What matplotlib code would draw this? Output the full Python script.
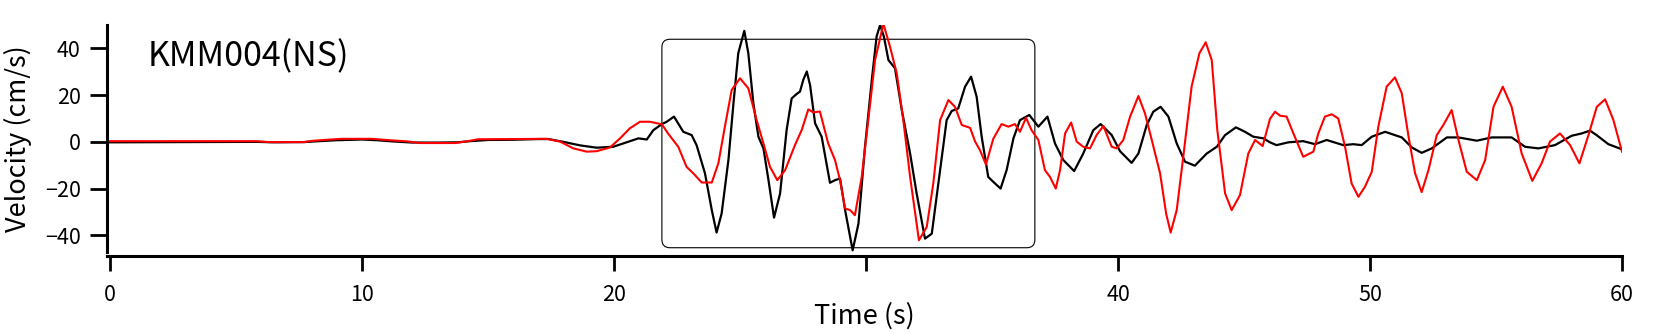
import matplotlib
matplotlib.use("Agg")
import matplotlib.pyplot as plt
from matplotlib.patches import FancyBboxPatch

plt.rcParams['font.family'] = ['Noto Sans CJK JP', 'DejaVu Sans']

# ---- data ----
black_t = [0, 3, 5.8, 6.5, 7.7, 8.3, 9.0, 10.0, 10.6, 11.2, 12.0, 13.0, 13.8, 14.3, 15.0, 16.0,
           17.0, 17.4, 17.99, 18.65, 19.31, 19.97, 20.5, 20.97, 21.3, 21.56, 21.9, 22.09, 22.38,
           22.75, 23.08, 23.28, 23.61, 23.88, 24.07, 24.27, 24.54, 24.74, 24.93, 25.17, 25.33,
           25.53, 25.73, 25.93, 26.13, 26.35, 26.59, 26.85, 27.05, 27.25, 27.38, 27.51, 27.65,
           27.78, 27.98, 28.24, 28.57, 28.77, 28.97, 29.17, 29.47, 29.7, 29.96, 30.23, 30.42,
           30.56, 30.71, 30.89, 31.15, 31.42, 31.75, 32.01, 32.34, 32.61, 32.94, 33.2, 33.4,
           33.66, 33.93, 34.17, 34.39, 34.59, 34.85, 35.05, 35.34, 35.58, 35.85, 36.11, 36.48,
           36.84, 37.2, 37.5, 37.83, 38.26, 38.62, 39.02, 39.31, 39.75, 40.08, 40.54, 40.81,
           41.14, 41.4, 41.69, 42.0, 42.33, 42.66, 43.05, 43.52, 43.92, 44.25, 44.68, 45.04,
           45.37, 45.77, 46.03, 46.29, 46.76, 47.35, 47.82, 48.28, 48.94, 49.34, 49.67, 50.07,
           50.6, 51.26, 51.66, 52.05, 52.45, 53.05, 53.51, 54.24, 54.83, 55.62, 56.15, 56.68,
           57.34, 58.0, 58.4, 58.73, 58.99, 59.46, 60.0]
black_v = [-0.2, -0.1, 0.0, -0.2, -0.1, 0.3, 0.7, 1.0, 0.7, 0.2, -0.3, -0.3, -0.2, 0.3, 0.8, 0.9,
           1.2, 1.2, 0.0, -1.5, -2.5, -2.1, -0.2, 1.5, 1.0, 5.0, 7.6, 8.6, 10.8,
           4.3, 2.9, -1.5, -13.5, -29.2, -38.8, -30.7, -7.8, 16.5, 37.9, 47.5, 37.9,
           16.5, 2.2, -2.8, -16.4, -32.4, -22.1, 5.1, 18.6, 20.5, 21.5, 26.5, 30.1,
           24.3, 7.9, 2.2, -17.5, -16.4, -15.7, -29.2, -46.4, -35.0, -2.1, 26.5, 45.1,
           50.0, 45.0, 35.0, 31.5, 13.6, -5.0, -22.1, -41.4, -39.3, -12.1, 9.3, 13.2,
           14.3, 23.6, 27.9, 19.3, 2.2, -15.0, -17.1, -20.0, -12.1, 1.5, 9.3, 11.5,
           6.5, 10.8, -0.7, -7.8, -12.5, -5.0, 5.0, 7.6, 2.9, -4.0, -9.0, -5.0,
           7.2, 12.9, 15.0, 10.8, -0.7, -8.5, -10.2, -5.0, -2.1, 2.9, 6.2, 4.3,
           2.2, 1.5, -0.2, -1.4, -0.2, 0.3, -1.0, 0.8, -1.4, -1.0, -1.4, 2.2,
           4.3, 1.9, -2.4, -4.7, -2.8, 1.9, 1.9, 0.5, 1.9, 1.9, -2.1, -2.8,
           -1.4, 2.6, 3.6, 4.8, 2.9, -1.0, -3.2]

red_t = [0, 5.8, 6.3, 7.7, 8.0, 8.6, 9.2, 10.4, 11.1, 11.8, 12.3, 13.7, 14.2, 14.6, 17.33, 17.86,
         18.39, 18.92, 19.31, 19.84, 20.24, 20.63, 21.03, 21.43, 21.9, 22.15, 22.55, 22.88, 23.15,
         23.48, 23.88, 24.14, 24.4, 24.67, 25.0, 25.33, 25.66, 25.93, 26.19, 26.48, 26.79, 27.18,
         27.45, 27.71, 27.91, 28.17, 28.5, 28.77, 28.97, 29.17, 29.37, 29.56, 29.83, 30.09, 30.36,
         30.69, 30.95, 31.22, 31.48, 31.75, 32.1, 32.41, 32.67, 32.94, 33.27, 33.53, 33.8, 34.13,
         34.33, 34.52, 34.76, 35.05, 35.38, 35.65, 35.91, 36.11, 36.35, 36.57, 36.84, 37.1, 37.3,
         37.53, 37.7, 37.9, 38.14, 38.36, 38.62, 38.89, 39.15, 39.42, 39.75, 39.95, 40.21, 40.48,
         40.81, 41.07, 41.34, 41.67, 41.91, 42.09, 42.33, 42.59, 42.92, 43.23, 43.48, 43.72, 43.94,
         44.25, 44.51, 44.84, 45.17, 45.44, 45.74, 46.03, 46.23, 46.43, 46.69, 46.96, 47.35, 47.75,
         47.95, 48.21, 48.48, 48.74, 49.01, 49.27, 49.54, 49.8, 50.07, 50.33, 50.66, 50.99, 51.26,
         51.53, 51.79, 52.05, 52.32, 52.65, 52.91, 53.24, 53.51, 53.84, 54.24, 54.57, 54.9, 55.27,
         55.62, 56.02, 56.44, 56.81, 57.14, 57.54, 57.94, 58.31, 58.67, 59.0, 59.33, 59.66, 60.0]
red_v = [0.3, 0.3, -0.1, -0.1, 0.4, 0.9, 1.3, 1.3, 0.7, 0.2, -0.5, -0.5, 0.3, 1.1, 1.3, 0.1,
         -2.8, -4.2, -4.0, -2.4, 1.5, 5.8, 8.6, 8.6, 7.5, 3.5, -2.1, -10.7, -13.5,
         -17.4, -17.4, -9.2, 6.5, 22.2, 27.2, 22.9, 9.3, -0.7, -10.7, -16.4, -12.1, -1.4,
         5.1, 13.9, 12.6, 13.0, -0.7, -7.8, -16.4, -28.5, -29.2, -31.4, -15.0, 9.3, 35.0,
         50.5, 40.8, 29.3, 9.3, -15.0, -42.1, -36.4, -17.8, 9.3, 17.9, 15.0, 7.2, 6.0,
         0.1, -3.5, -9.7, 1.3, 7.6, 6.5, 7.6, 4.3, 10.3, 5.0, 0.8, -12.1, -15.0,
         -20.0, -12.1, 3.6, 8.3, 0.1, -2.1, -2.8, 2.9, 6.8, -2.1, -2.8, 0.8, 10.8,
         19.6, 12.2, 0.8, -13.5, -30.7, -38.8, -29.2, -6.4, 23.6, 37.9, 42.6, 35.0, 5.1,
         -22.1, -29.2, -22.8, -5.0, 0.8, -1.8, 9.8, 12.9, 11.2, 10.8, 3.6, -6.4, -4.2,
         3.6, 10.8, 11.8, 10.0, -2.1, -17.8, -23.5, -19.2, -12.8, 6.5, 23.6, 27.6, 20.8,
         2.2, -13.5, -21.5, -12.1, 2.9, 7.2, 13.6, 0.8, -12.8, -16.4, -7.8, 15.0, 23.6,
         15.0, -5.0, -16.7, -9.2, 0.1, 3.6, -1.4, -9.2, 2.9, 15.0, 18.2, 9.3, -4.2]

x_ticks = [0, 10, 20, 30, 40, 50, 60]
x_tick_labels = ["0", "10", "20", "", "40", "50", "60"]  # 30 hidden under the axis title
y_ticks = [-40, -20, 0, 20, 40]
station_label = "KMM004(NS)"
x_label = "Time (s)"
y_label = "Velocity (cm/s)"

# highlighted window (time range and velocity range)
box_t = (21.9, 36.7)
box_v = (-45.3, 43.9)

# ---- figure ----
W, H, DPI = 1672, 333, 100
fig = plt.figure(figsize=(W / DPI, H / DPI), dpi=DPI)
ax = fig.add_axes([107 / W, 81.3 / H, (1622 - 107) / W, (251.7 - 25) / H])

ax.plot(black_t, black_v, color='black', lw=1.6, zorder=3)
ax.plot(red_t, red_v, color='#ff0000', lw=1.5, zorder=4)

ax.set_xlim(-0.12, 60)
ax.set_ylim(-47, 50)

# rounded box with pixel-proportional rounding
px_x = 60.12 / (1622 - 107)
px_y = 97 / (251.7 - 25)
box = FancyBboxPatch((box_t[0], box_v[0]), box_t[1] - box_t[0], box_v[1] - box_v[0],
                     boxstyle=f"round,pad=0,rounding_size={8 * px_x}",
                     mutation_aspect=px_y / px_x,
                     fill=False, edgecolor='black', lw=0.8, zorder=2)
ax.add_patch(box)

for s in ['top', 'right']:
    ax.spines[s].set_visible(False)
ax.spines['left'].set_linewidth(2.2)
ax.spines['bottom'].set_linewidth(2.2)
ax.spines['bottom'].set_position(('outward', 3))

ax.set_xticks(x_ticks)
ax.set_xticklabels(x_tick_labels)
ax.set_yticks(y_ticks)
ax.tick_params(axis='y', direction='out', length=12, width=2.0, labelsize=15.5, pad=7)
ax.tick_params(axis='x', direction='out', length=11, width=2.0, labelsize=15.5, pad=9)

ax.set_xlabel(x_label, fontsize=19.5, labelpad=-2)
ax.set_ylabel(y_label, fontsize=19.5, labelpad=9)

ax.text(1.5, 36.3, station_label, fontsize=24.5, ha='left', va='center')

fig.savefig("out.png", dpi=DPI)
